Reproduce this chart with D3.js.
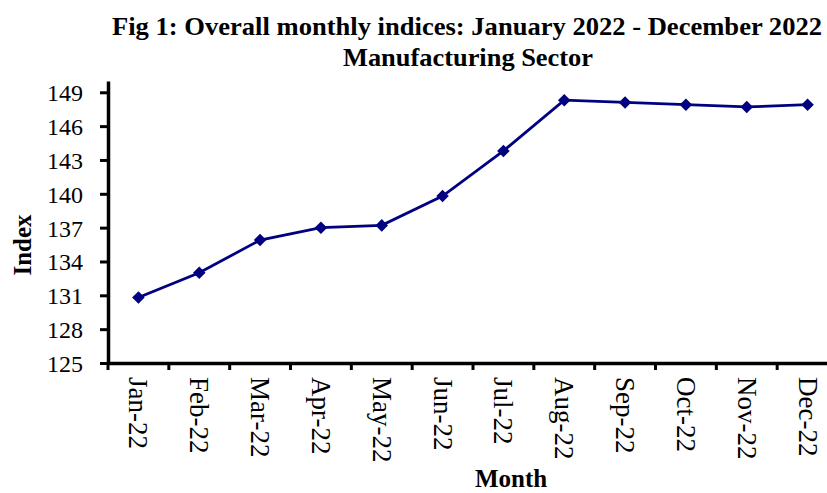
<!DOCTYPE html>
<html>
<head>
<meta charset="utf-8">
<script src="https://cdn.jsdelivr.net/npm/d3@7"></script>
<style>
  body { margin: 0; background: #fff; }
  text { font-family: "Liberation Serif", "Times New Roman", serif; fill: #000; }
</style>
</head>
<body>
<script>
const months = ["Jan-22", "Feb-22", "Mar-22", "Apr-22", "May-22", "Jun-22",
                "Jul-22", "Aug-22", "Sep-22", "Oct-22", "Nov-22", "Dec-22"];
const indexValues = [130.8, 133.0, 135.9, 137.0, 137.2, 139.8,
                     143.8, 148.3, 148.1, 147.9, 147.7, 147.9];
const yTicks = [125, 128, 131, 134, 137, 140, 143, 146, 149];
const titleLines = ["Fig 1: Overall monthly indices: January 2022 - December 2022",
                    "Manufacturing Sector"];

const width = 827, height = 493;
const plot = { left: 108, right: 838, top: 81, bottom: 363 };

const svg = d3.select("body").append("svg")
  .attr("width", width)
  .attr("height", height);

// title
svg.append("text")
  .attr("x", 467).attr("y", 35)
  .attr("text-anchor", "middle")
  .attr("font-size", 25).attr("font-weight", "bold")
  .attr("textLength", 710).attr("lengthAdjust", "spacingAndGlyphs")
  .text(titleLines[0]);
svg.append("text")
  .attr("x", 468).attr("y", 66)
  .attr("text-anchor", "middle")
  .attr("font-size", 26).attr("font-weight", "bold")
  .attr("textLength", 250).attr("lengthAdjust", "spacingAndGlyphs")
  .text(titleLines[1]);

const x = d3.scaleBand()
  .domain(months)
  .range([plot.left, plot.right]);

const y = d3.scaleLinear()
  .domain([125, 150])
  .range([plot.bottom, plot.top]);

// y axis
const yAxis = svg.append("g")
  .attr("transform", `translate(${plot.left},0)`)
  .call(d3.axisLeft(y).tickValues(yTicks).tickSize(8).tickPadding(17).tickSizeOuter(0));
yAxis.select(".domain").attr("stroke-width", 3.5);
yAxis.selectAll(".tick line").attr("stroke-width", 3);
yAxis.selectAll(".tick text")
  .attr("font-size", 24)
  .attr("font-family", "Liberation Serif, serif")
  .attr("dy", "0.35em");

// x axis, ticks sit on the category boundaries
const xAxis = svg.append("g")
  .attr("transform", `translate(0,${plot.bottom})`)
  .call(d3.axisBottom(x).tickSize(0).tickSizeOuter(0));
xAxis.select(".domain").attr("stroke-width", 3.5);
xAxis.selectAll(".tick text")
  .attr("font-size", 27)
  .attr("font-family", "Liberation Serif, serif")
  .attr("text-anchor", "start")
  .attr("dy", null)
  .attr("transform", "translate(0,14) rotate(90)")
  .attr("x", 0).attr("y", 0)
  .attr("dominant-baseline", "central");
xAxis.selectAll(".boundary")
  .data(months)
  .enter().append("line")
    .attr("class", "boundary")
    .attr("x1", d => x(d)).attr("x2", d => x(d))
    .attr("y1", 0).attr("y2", 7)
    .attr("stroke", "#000").attr("stroke-width", 3);

// axis titles
svg.append("text")
  .attr("x", 511).attr("y", 487)
  .attr("text-anchor", "middle")
  .attr("font-size", 25).attr("font-weight", "bold")
  .text("Month");
svg.append("text")
  .attr("transform", "translate(31,245) rotate(-90)")
  .attr("text-anchor", "middle")
  .attr("font-size", 25).attr("font-weight", "bold")
  .text("Index");

// series
const cx = d => x(d) + x.bandwidth() / 2;
const line = d3.line()
  .x((d, i) => cx(months[i]))
  .y(d => y(d));

svg.append("path")
  .datum(indexValues)
  .attr("fill", "none")
  .attr("stroke", "#000080")
  .attr("stroke-width", 2.8)
  .attr("d", line);

const diamond = d3.symbol().type(d3.symbolDiamond2 || d3.symbolDiamond).size(100);
svg.selectAll(".marker")
  .data(indexValues)
  .enter().append("path")
    .attr("class", "marker")
    .attr("d", diamond)
    .attr("fill", "#000080")
    .attr("transform", (d, i) => `translate(${cx(months[i])},${y(d)})`);
</script>
</body>
</html>
